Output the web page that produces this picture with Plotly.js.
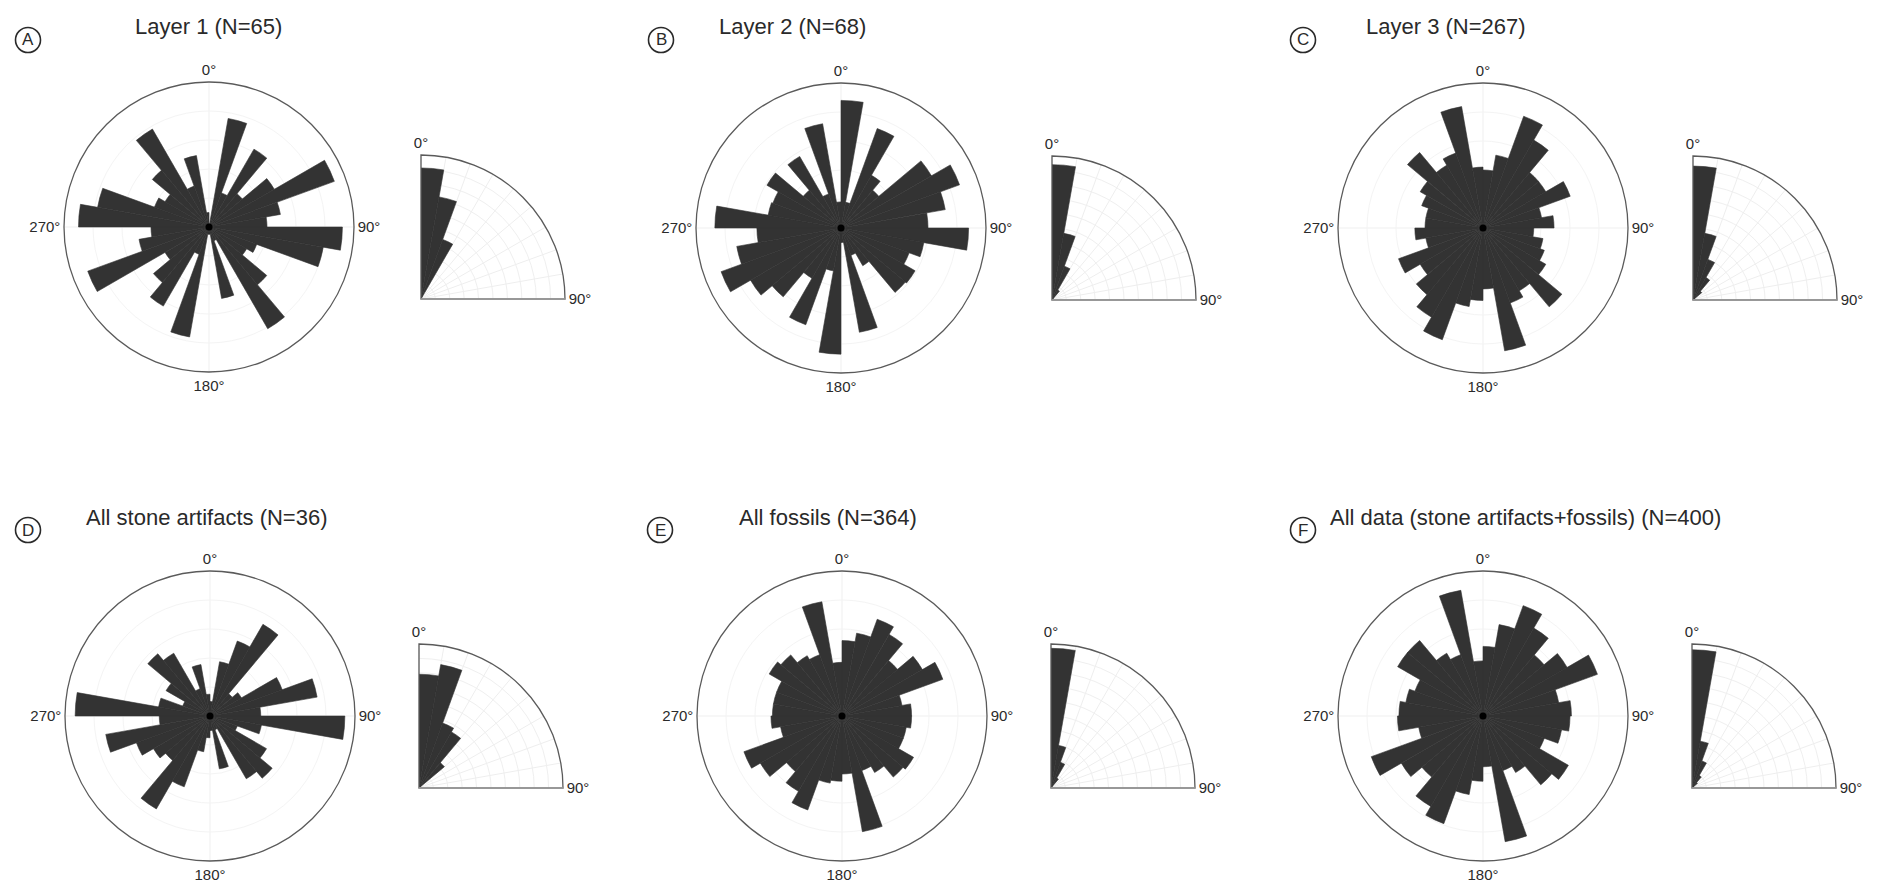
<!DOCTYPE html>
<html><head><meta charset="utf-8">
<script src="https://cdn.plot.ly/plotly-3.0.1.min.js"></script>
<style>html,body{margin:0;padding:0;background:#fff;} #chart{width:1879px;height:888px;}</style>
</head><body><div id="chart"></div>
<script>
const W = 1879, H = 888;

// Azimuth bin centres (10° bins) and dip bin centres (10° bins)
const azimuthBins = [5,15,25,35,45,55,65,75,85,95,105,115,125,135,145,155,165,175,185,195,205,215,225,235,245,255,265,275,285,295,305,315,325,335,345,355];
const dipBins = [5,15,25,35,45,55,65,75,85];

// Relative frequency (% of outer ring)
const layer1Azimuth = [0,76,25,62,30,52,92,50,40, 92,80,35,30,52,81,10,50,5, 5,77,20,63,50,35,89,49,40, 90,78,40,35,51,78,30,50,10];
const layer2Azimuth = [88,18,73,42,34,72,87,73,60, 88,58,50,59,58,30,20,73,10, 87,30,71,40,62,72,88,73,58, 87,51,50,59,34,57,25,73,18];
const layer3Azimuth = [40,51,82,70,50,50,64,41,49, 35,42,45,50,71,50,55,86,42, 50,55,82,71,60,50,62,40,47, 40,40,45,50,68,50,55,85,42];
const stoneAzimuth  = [10,38,55,73,20,25,53,75,35, 93,36,20,45,56,50,10,37,10, 15,25,52,74,40,45,54,73,35, 93,36,20,35,56,50,20,36,15];
const fossilAzimuth = [52,58,71,65,50,64,74,42,48, 48,45,45,57,55,45,40,81,40, 45,47,69,60,50,65,72,43,49, 48,48,48,58,55,48,45,80,37];
const allAzimuth    = [48,64,81,70,55,67,84,53,61, 60,55,45,68,62,45,40,88,35, 45,55,79,72,55,65,82,45,59, 58,54,50,68,68,50,45,88,38];

const layer1Dip = [91,72,44,0,0,0,0,0,0];
const layer2Dip = [94,47,25,8,0,0,0,0,0];
const layer3Dip = [93,47,30,18,8,0,0,0,0];
const stoneDip  = [79,87,48,45,23,0,0,0,0];
const fossilDip = [97,30,19,8,0,0,0,0,0];
const allDip    = [96,33,20,10,5,0,0,0,0];

const panelLetters = ['A','B','C','D','E','F'];
const panelTitles = ['Layer 1 (N=65)','Layer 2 (N=68)','Layer 3 (N=267)','All stone artifacts (N=36)','All fossils (N=364)','All data (stone artifacts+fossils) (N=400)'];
const azimuthSeries = [layer1Azimuth, layer2Azimuth, layer3Azimuth, stoneAzimuth, fossilAzimuth, allAzimuth];
const dipSeries = [layer1Dip, layer2Dip, layer3Dip, stoneDip, fossilDip, allDip];

// layout geometry (pixels)
const mainCenters = [[209,227],[841,228],[1483,228],[210,716],[842,716],[1483,716]];
const mainR = 145;
const quarterOrigins = [[421,299],[1052,300],[1693,300],[419,788],[1051,788],[1692,788]];
const quarterR = 144;
const titlePos = [[208,27],[792,27],[1446,27],[206,517],[828,517],[1525,517]];
const letterPos = [[28,40],[661,40],[1303,40],[28,530],[660,530],[1303,530]];

const px = x => x / W;
const py = y => 1 - y / H;
const BAR = '#333333';
const TXT = '#2a2a2a';

const data = [];
const layout = {
  width: W, height: H,
  margin: {l:0, r:0, t:0, b:0},
  paper_bgcolor: '#fff',
  showlegend: false,
  font: {family: 'Liberation Sans, Arial, sans-serif', color: TXT},
  annotations: [],
  shapes: []
};

for (let i = 0; i < 6; i++) {
  const mainKey = 'polar' + (i === 0 ? '' : (2*i + 1));
  const quartKey = 'polar' + (2*i + 2);
  const [cx, cy] = mainCenters[i];
  const [ox, oy] = quarterOrigins[i];

  data.push({
    type: 'barpolar', subplot: mainKey,
    r: azimuthSeries[i], theta: azimuthBins, width: Array(azimuthBins.length).fill(10),
    marker: {color: BAR, line: {color: BAR, width: 0.6}},
    hoverinfo: 'r+theta'
  });
  data.push({
    type: 'barpolar', subplot: quartKey,
    r: dipSeries[i], theta: dipBins, width: Array(dipBins.length).fill(10),
    marker: {color: BAR, line: {color: BAR, width: 0.6}},
    hoverinfo: 'r+theta'
  });

  layout[mainKey] = {
    domain: {x: [px(cx - mainR), px(cx + mainR)], y: [py(cy + mainR), py(cy - mainR)]},
    bgcolor: 'rgba(0,0,0,0)',
    bargap: 0,
    angularaxis: {
      direction: 'clockwise', rotation: 90,
      tickmode: 'array', tickvals: [0,90,180,270], ticktext: ['0°','90°','180°','270°'],
      ticks: '', showline: true, linecolor: '#5a5a5a', linewidth: 1.3,
      showgrid: true, gridcolor: '#efefef', gridwidth: 1,
      tickfont: {size: 15, color: TXT}
    },
    radialaxis: {
      range: [0, 100], showticklabels: false, ticks: '', showline: false,
      tickmode: 'array', tickvals: [20,40,60,80], gridcolor: '#f4f4f4'
    }
  };
  layout[quartKey] = {
    domain: {x: [px(ox), px(ox + quarterR)], y: [py(oy), py(oy - quarterR)]},
    sector: [0, 90],
    bgcolor: 'rgba(0,0,0,0)',
    bargap: 0,
    angularaxis: {
      direction: 'clockwise', rotation: 90,
      tickmode: 'array', tickvals: [0,10,20,30,40,50,60,70,80,90],
      ticktext: ['0°','','','','','','','','','90°'],
      ticks: '', showline: true, linecolor: '#5a5a5a', linewidth: 1.3,
      showgrid: true, gridcolor: '#eeeeee', gridwidth: 1,
      tickfont: {size: 15, color: TXT}
    },
    radialaxis: {
      range: [0, 100], angle: 0, showticklabels: false, ticks: '',
      showline: true, linecolor: '#a0a0a0', linewidth: 1.5,
      tickmode: 'array', tickvals: [10,20,30,40,50,60,70,80,90], gridcolor: '#efefef'
    }
  };

  layout.annotations.push({
    xref: 'paper', yref: 'paper', x: px(titlePos[i][0]), y: py(titlePos[i][1]),
    xanchor: 'center', yanchor: 'middle', showarrow: false,
    text: panelTitles[i], font: {size: 22, color: TXT}
  });
  layout.annotations.push({
    xref: 'paper', yref: 'paper', x: px(letterPos[i][0]), y: py(letterPos[i][1]),
    xanchor: 'center', yanchor: 'middle', showarrow: false,
    text: panelLetters[i], font: {size: 17, color: TXT}
  });
  const lr = 12.5;
  layout.shapes.push({
    type: 'circle', xref: 'paper', yref: 'paper',
    x0: px(letterPos[i][0] - lr), x1: px(letterPos[i][0] + lr),
    y0: py(letterPos[i][1] + lr), y1: py(letterPos[i][1] - lr),
    line: {color: TXT, width: 1.6}
  });
  // dark hub where the petals converge
  const hr = 3.5;
  layout.shapes.push({
    type: 'circle', xref: 'paper', yref: 'paper', layer: 'above',
    x0: px(cx - hr), x1: px(cx + hr), y0: py(cy + hr), y1: py(cy - hr),
    fillcolor: '#000', line: {width: 0}
  });
}

Plotly.newPlot('chart', data, layout, {displayModeBar: false, staticPlot: true});
</script>
</body></html>
